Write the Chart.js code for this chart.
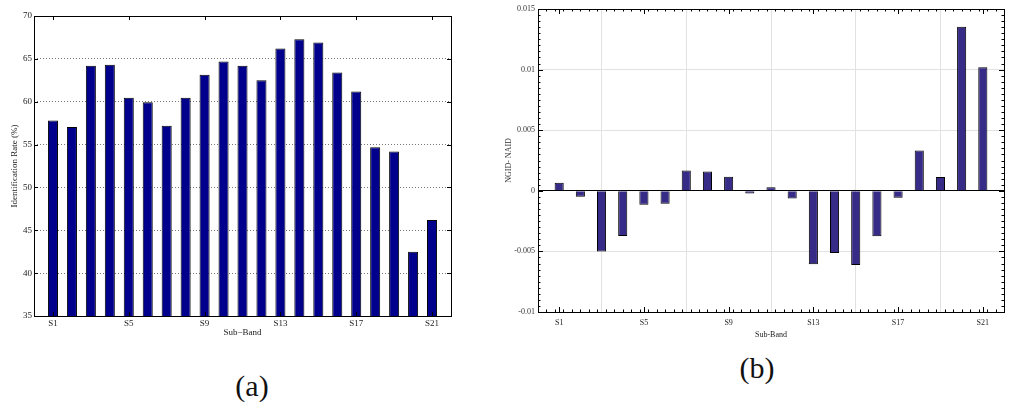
<!DOCTYPE html>
<html>
<head>
<meta charset="utf-8">
<script src="https://cdn.jsdelivr.net/npm/chart.js@4"></script>
<style>
  body { margin: 0; background: #fff; width: 1034px; height: 403px; overflow: hidden; position: relative; }
  canvas { position: absolute; top: 0; }
  #rateChart { left: 0; }
  #diffChart { left: 490px; }
  .tag { position: absolute; font-family: "Liberation Serif", serif; font-size: 30px; color: #111; transform: translate(-50%, -50%); }
</style>
</head>
<body>
<canvas id="rateChart" width="460" height="345"></canvas>
<canvas id="diffChart" width="544" height="345"></canvas>
<div class="tag" style="left:252px; top:386px;">(a)</div>
<div class="tag" style="left:757px; top:368px;">(b)</div>
<script>
const bands = ["S1", "S2", "S3", "S4", "S5", "S6", "S7", "S8", "S9", "S10", "S11",
  "S12", "S13", "S14", "S15", "S16", "S17", "S18", "S19", "S20", "S21"];
const xTickLabels = ["S1", "S5", "S9", "S13", "S17", "S21"];
const xTickPositions = [1, 5, 9, 13, 17, 21];

// (a) identification rate per sub-band, %
const identRates = [57.8, 57.05, 64.2, 64.3, 60.45, 59.95, 57.2, 60.45, 63.15, 64.7, 64.2,
  62.5, 66.2, 67.3, 66.9, 63.4, 61.2, 54.7, 54.2, 42.5, 46.2];

// (b) NGID - NAID per sub-band
const ngidNaid = [0.00066, -0.0005, -0.005, -0.00373, -0.00115, -0.00107, 0.00167, 0.00159,
  0.00115, -0.00022, 0.0003, -0.00063, -0.00607, -0.00514, -0.00613, -0.00376, -0.00058,
  0.00332, 0.00113, 0.01354, 0.0102];

const serif = "'Liberation Serif', 'Times New Roman', serif";

// MATLAB style box with inward tick marks
const matlabBox = {
  id: "matlabBox",
  afterDatasetsDraw(chart, args, opts) {
    const { ctx, chartArea: a, scales: { x, y } } = chart;
    ctx.save();
    ctx.strokeStyle = "#000";
    ctx.lineWidth = 1;
    ctx.beginPath();
    const xMarks = (vals, len) => {
      vals.forEach(v => {
        const px = Math.round(x.getPixelForValue(v)) + 0.5;
        ctx.moveTo(px, a.top); ctx.lineTo(px, a.top + len);
        ctx.moveTo(px, a.bottom); ctx.lineTo(px, a.bottom - len);
      });
    };
    const yMarks = (vals, len) => {
      vals.forEach(v => {
        const py = Math.round(y.getPixelForValue(v)) + 0.5;
        ctx.moveTo(a.left, py); ctx.lineTo(a.left + len, py);
        ctx.moveTo(a.right, py); ctx.lineTo(a.right - len, py);
      });
    };
    xMarks(xTickPositions, opts.majorLen);
    yMarks(y.ticks.map(t => t.value), opts.majorLen);
    if (opts.xMinorStep) {
      const xm = [];
      for (let v = x.min; v <= x.max + 1e-9; v += opts.xMinorStep) xm.push(v);
      xMarks(xm, opts.minorLen);
    }
    if (opts.yMinorStep) {
      const ym = [];
      for (let k = 0; y.min + k * opts.yMinorStep <= y.max + 1e-12; k++) ym.push(y.min + k * opts.yMinorStep);
      yMarks(ym, opts.minorLen);
    }
    ctx.stroke();
    ctx.strokeRect(Math.round(a.left) + 0.5, Math.round(a.top) + 0.5,
      Math.round(a.right - a.left), Math.round(a.bottom - a.top));
    ctx.restore();
  }
};

function xAxis(fontSize, titleText, height, titlePad, labelPad, grid) {
  return {
    type: "linear",
    min: 0,
    max: bands.length + 1,
    offset: false,
    afterBuildTicks: scale => { scale.ticks = xTickPositions.map(v => ({ value: v })); },
    afterFit: scale => { scale.height = height; },
    ticks: {
      autoSkip: false,
      maxRotation: 0,
      padding: labelPad,
      color: "#222",
      font: { family: serif, size: fontSize },
      callback: (v, i) => xTickLabels[i]
    },
    grid: grid,
    border: { display: false },
    title: {
      display: true,
      text: titleText,
      color: "#222",
      font: { family: serif, size: fontSize },
      padding: { top: 0, bottom: titlePad }
    }
  };
}

new Chart(document.getElementById("rateChart"), {
  type: "bar",
  data: {
    datasets: [{
      data: identRates.map((v, i) => ({ x: i + 1, y: v })),
      backgroundColor: "#00008c",
      borderColor: "#000",
      borderWidth: 1,
      barPercentage: 0.53,
      categoryPercentage: 1
    }]
  },
  options: {
    responsive: false,
    devicePixelRatio: 1,
    animation: false,
    layout: { padding: { left: 0, top: 16, right: 9, bottom: 0 } },
    plugins: {
      legend: { display: false },
      tooltip: { enabled: false },
      matlabBox: { majorLen: 4 }
    },
    scales: {
      x: xAxis(9, "Sub\u2212Band", 29, 7, 2, { display: false, drawTicks: false }),
      y: {
        min: 35,
        max: 70,
        afterFit: scale => { scale.width = 34; },
        ticks: {
          stepSize: 5,
          padding: 2,
          color: "#222",
          font: { family: serif, size: 9 }
        },
        grid: { color: "#777", drawTicks: false },
        border: { display: false, dash: [1, 2] },
        title: {
          display: true,
          text: "Identification Rate (%)",
          color: "#222",
          font: { family: serif, size: 9 },
          padding: { top: 9, bottom: 0 }
        }
      }
    }
  },
  plugins: [matlabBox]
});

new Chart(document.getElementById("diffChart"), {
  type: "bar",
  data: {
    datasets: [{
      data: ngidNaid.map((v, i) => ({ x: i + 1, y: v })),
      backgroundColor: "#372b88",
      borderColor: "#000",
      borderWidth: 1,
      barPercentage: 0.43,
      categoryPercentage: 1
    }]
  },
  options: {
    responsive: false,
    devicePixelRatio: 1,
    animation: false,
    layout: { padding: { left: 0, top: 9, right: 30, bottom: 0 } },
    plugins: {
      legend: { display: false },
      tooltip: { enabled: false },
      matlabBox: { majorLen: 5, minorLen: 2.5, xMinorStep: 0.4, yMinorStep: 0.0005 }
    },
    scales: {
      x: xAxis(8, "Sub-Band", 33, 5, 6, { color: "#e2e2e2", drawTicks: false }),
      y: {
        min: -0.01,
        max: 0.015,
        afterFit: scale => { scale.width = 48; },
        ticks: {
          stepSize: 0.005,
          padding: 3,
          color: "#333",
          font: { family: serif, size: 8 },
          callback: v => String(+v.toFixed(3))
        },
        grid: {
          color: ctx => (ctx.tick && Math.abs(ctx.tick.value) < 1e-9 ? "#000" : "#e2e2e2"),
          drawTicks: false
        },
        border: { display: false },
        title: {
          display: true,
          text: "NGID- NAID",
          color: "#333",
          font: { family: serif, size: 8 },
          padding: { top: 14, bottom: 0 }
        }
      }
    }
  },
  plugins: [matlabBox]
});
</script>
</body>
</html>
